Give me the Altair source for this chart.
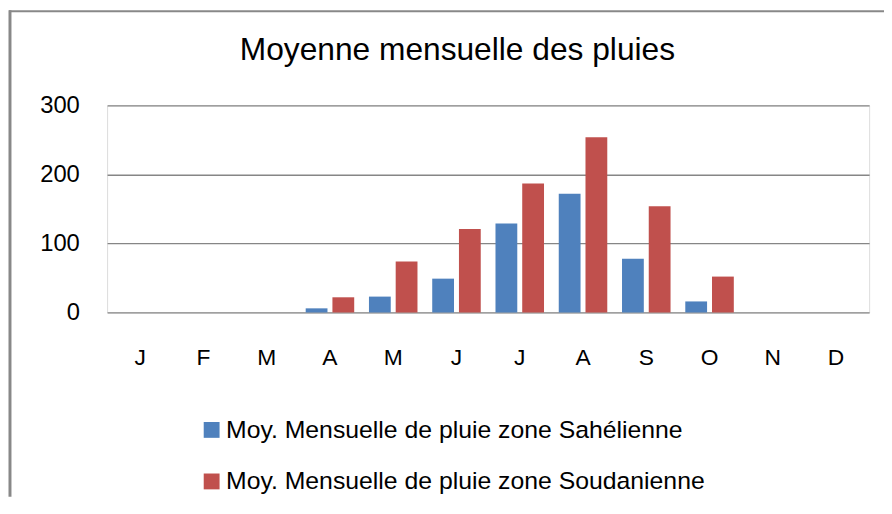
import altair as alt
import pandas as pd

months = ["Janvier", "Février", "Mars", "Avril", "Mai", "Juin", "Juillet",
          "Août", "Septembre", "Octobre", "Novembre", "Décembre"]
series = ["Moy. Mensuelle de pluie zone Sahélienne",
          "Moy. Mensuelle de pluie zone Soudanienne"]
sahel = [0, 0, 0, 6, 23, 49, 129, 172, 78, 16, 0, 0]
soudan = [0, 0, 0, 22, 74, 121, 187, 254, 154, 52, 0, 0]
colors = ["#4F81BD", "#C0504D"]
y_ticks = [0, 100, 200, 300]
title_text = "Moyenne mensuelle des pluies"

FN = "Liberation Sans, Arial, sans-serif"

rows = []
for m, a, b in zip(months, sahel, soudan):
    rows.append({"mois": m, "zone": series[0], "pluie": a})
    rows.append({"mois": m, "zone": series[1], "pluie": b})
df = pd.DataFrame(rows)

bars = alt.Chart(df).mark_bar().encode(
    x=alt.X("mois:N", sort=months,
            scale=alt.Scale(paddingInner=0.233, paddingOuter=0.139),
            axis=alt.Axis(title=None, labelExpr="substring(datum.value, 0, 1)",
                          labelAngle=0, domain=False, ticks=False, grid=False,
                          labelPadding=35, labelFontSize=23, labelFont=FN,
                          labelColor="black")),
    xOffset=alt.XOffset("zone:N", sort=series,
                        scale=alt.Scale(paddingInner=0.185, paddingOuter=0)),
    y=alt.Y("pluie:Q", scale=alt.Scale(domain=[0, 300]),
            axis=alt.Axis(title=None, values=y_ticks, domain=False, ticks=False,
                          grid=True, gridColor="#868686", gridWidth=1.3,
                          labelPadding=28, labelFontSize=24, labelFont=FN,
                          labelColor="black")),
    color=alt.Color("zone:N", sort=series,
                    scale=alt.Scale(domain=series, range=colors),
                    legend=alt.Legend(title=None, orient="none", legendX=93,
                                      legendY=315, direction="vertical",
                                      symbolType="square", symbolSize=256,
                                      symbolStrokeWidth=0, labelFontSize=25,
                                      labelFont=FN, labelColor="black",
                                      labelLimit=800, rowPadding=26,
                                      labelOffset=2, padding=0)),
)

frame_df = pd.DataFrame({"k": [0]})
left_rule = alt.Chart(frame_df).mark_rule(color="#888888", strokeWidth=3).encode(
    x=alt.value(-98), y=alt.value(-96), y2=alt.value(395))
top_rule = alt.Chart(frame_df).mark_rule(color="#888888", strokeWidth=2).encode(
    x=alt.value(-99), x2=alt.value(784), y=alt.value(-95))

chart = alt.layer(left_rule, top_rule, bars).properties(
    width=769, height=209,
    title=alt.TitleParams(title_text, font="Liberation Sans", fontSize=32,
                          fontWeight="normal", color="black", anchor="middle",
                          frame="group", dx=-31, baseline="alphabetic",
                          offset=-84),
    autosize=alt.AutoSizeParams(type="none"),
    padding={"left": 100, "top": 96, "right": 15, "bottom": 190},
).configure_view(stroke=None).configure(background="white")

chart.save("out.html", embed_options={"renderer": "svg", "actions": False})
